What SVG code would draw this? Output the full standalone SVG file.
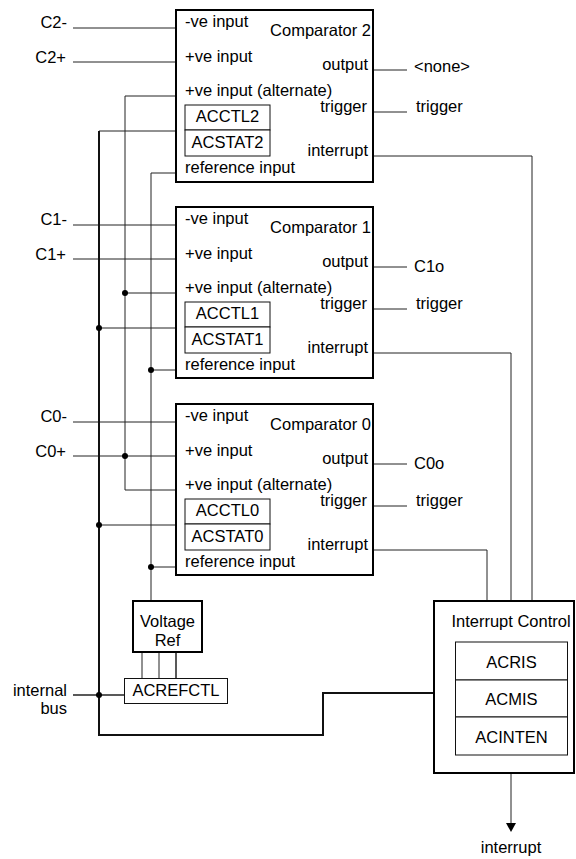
<svg xmlns="http://www.w3.org/2000/svg" width="576" height="859" viewBox="0 0 576 859">
<style>
text{font-family:"Liberation Sans",Arial,Helvetica,sans-serif;font-size:16.5px;fill:#000}
.e{text-anchor:end}
.m{text-anchor:middle}
.box{fill:#fff;stroke:#000;stroke-width:2}
.reg{fill:#fff;stroke:#111;stroke-width:1}
.w{fill:none;stroke:#222;stroke-width:1}
.b{fill:none;stroke:#111;stroke-width:2}
.dot{fill:#000}
</style>
<rect width="576" height="859" fill="#fff"/>
<g id="connectors">
<path class="w" d="M73,28H176M73,62H176M373,70H407M373,112H407M373,156H532V601"/>
<path class="w" d="M176,96H125V490H176M176,173H151V601"/>
<path class="w" d="M176,131H99"/>
<path class="w" d="M73,225H176M73,259H176M373,267H407M373,309H407M373,353H511V601"/>
<path class="w" d="M125,293H176M99,328H176M151,370H176"/>
<path class="w" d="M73,422H176M73,456H176M373,464H407M373,506H407M373,550H487V601"/>
<path class="w" d="M99,525H176M151,567H176"/>
<path class="b" d="M99,131V735H323V693H434"/>
<path class="w" d="M73,695H124.5" style="stroke-width:1.5"/>
<path class="w" d="M142,652V678M159,652V678"/>
<path class="w" d="M176,652V678" style="stroke-width:1.5"/>
<line class="w" x1="511" y1="773" x2="511" y2="824"/>
<polygon points="506,823 516,823 511,832" fill="#000"/>
<circle class="dot" cx="125" cy="293" r="3"/>
<circle class="dot" cx="99" cy="328" r="3"/>
<circle class="dot" cx="151" cy="370" r="3"/>
<circle class="dot" cx="125" cy="456" r="3"/>
<circle class="dot" cx="99" cy="525" r="3"/>
<circle class="dot" cx="151" cy="567" r="3"/>
<circle class="dot" cx="99" cy="695" r="3"/>
</g>
<g id="labels">
<text class="e" x="67" y="28">C2-</text>
<text class="e" x="66" y="63">C2+</text>
<text class="e" x="67" y="225">C1-</text>
<text class="e" x="66" y="260">C1+</text>
<text class="e" x="67" y="422">C0-</text>
<text class="e" x="66" y="457">C0+</text>
<text x="414" y="72">&lt;none&gt;</text>
<text x="416" y="112">trigger</text>
<text x="414" y="272">C1o</text>
<text x="416" y="309">trigger</text>
<text x="414" y="469">C0o</text>
<text x="416" y="506">trigger</text>
<text class="e" x="67" y="696">internal</text>
<text class="e" x="67" y="714">bus</text>
<text class="m" x="511" y="853">interrupt</text>
</g>
<g id="comparator2" transform="translate(0,10)">
<rect class="box" x="176" y="0" width="197" height="172"/>
<text x="185" y="17">-ve input</text>
<text class="e" x="371" y="26">Comparator 2</text>
<text x="185" y="52">+ve input</text>
<text class="e" x="368" y="60">output</text>
<text x="185" y="86">+ve input (alternate)</text>
<text class="e" x="367" y="102">trigger</text>
<rect class="reg" x="185" y="95" width="85" height="25"/>
<rect class="reg" x="185" y="120" width="85" height="26"/>
<text class="m" x="227.5" y="112">ACCTL2</text>
<text class="m" x="227.5" y="138">ACSTAT2</text>
<text class="e" x="368" y="146">interrupt</text>
<text x="185" y="163">reference input</text>
</g>
<g id="comparator1" transform="translate(0,207)">
<rect class="box" x="176" y="0" width="197" height="171"/>
<text x="185" y="17">-ve input</text>
<text class="e" x="371" y="26">Comparator 1</text>
<text x="185" y="52">+ve input</text>
<text class="e" x="368" y="60">output</text>
<text x="185" y="86">+ve input (alternate)</text>
<text class="e" x="367" y="102">trigger</text>
<rect class="reg" x="185" y="95" width="85" height="25"/>
<rect class="reg" x="185" y="120" width="85" height="26"/>
<text class="m" x="227.5" y="112">ACCTL1</text>
<text class="m" x="227.5" y="138">ACSTAT1</text>
<text class="e" x="368" y="146">interrupt</text>
<text x="185" y="163">reference input</text>
</g>
<g id="comparator0" transform="translate(0,404)">
<rect class="box" x="176" y="0" width="197" height="171"/>
<text x="185" y="17">-ve input</text>
<text class="e" x="371" y="26">Comparator 0</text>
<text x="185" y="52">+ve input</text>
<text class="e" x="368" y="60">output</text>
<text x="185" y="86">+ve input (alternate)</text>
<text class="e" x="367" y="102">trigger</text>
<rect class="reg" x="185" y="95" width="85" height="25"/>
<rect class="reg" x="185" y="120" width="85" height="26"/>
<text class="m" x="227.5" y="112">ACCTL0</text>
<text class="m" x="227.5" y="138">ACSTAT0</text>
<text class="e" x="368" y="146">interrupt</text>
<text x="185" y="163">reference input</text>
</g>
<g id="voltageref">
<rect class="box" x="133" y="601" width="69" height="51"/>
<text class="m" x="167.5" y="627">Voltage</text>
<text class="m" x="167.5" y="646">Ref</text>
</g>
<g id="acrefctl">
<rect class="reg" x="124.5" y="678.5" width="103" height="25"/>
<text class="m" x="176" y="696">ACREFCTL</text>
</g>
<g id="interruptcontrol">
<rect class="box" x="434" y="601" width="140" height="172"/>
<text class="m" x="511" y="627">Interrupt Control</text>
<rect class="reg" x="455.5" y="642" width="112" height="38"/>
<rect class="reg" x="455.5" y="680" width="112" height="37"/>
<rect class="reg" x="455.5" y="717" width="112" height="38"/>
<text class="m" x="511.5" y="668">ACRIS</text>
<text class="m" x="511.5" y="705">ACMIS</text>
<text class="m" x="511.5" y="743">ACINTEN</text>
</g>
</svg>
